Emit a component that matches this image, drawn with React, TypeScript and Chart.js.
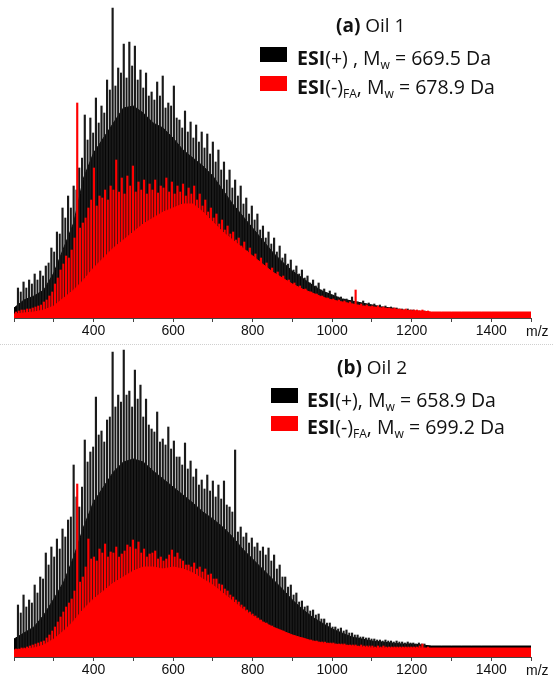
import React, { useEffect, useRef } from 'react';
import { Chart, registerables } from 'chart.js';

Chart.register(...registerables);

// ---------- axis / categories ----------
const X_MIN = 200;
const X_MAX = 1500;
const X_STEP = 100;
const TICK_LABELS = [400, 600, 800, 1000, 1200, 1400];
const AXIS_UNIT = 'm/z';

// homologous series (CH2 = 14 Da) peak grids
const POS_GRID_START = 210;
const POS_MINOR_START = 217;
const NEG_GRID_START = 205;
const NEG_MINOR_START = 212;
const GRID_STEP = 14;
// dense-signal envelope sampling
const BODY_START = 200;
const BODY_STEP = 25;

// ---------- Oil 1 ----------
const oil1PosPeaks = [
  30, 36, 38, 44, 47, 52, 70, 86, 110, 122,
  132, 150, 203, 200, 220, 212, 238, 310, 250, 274,
  276, 272, 248, 245, 226, 236, 242, 215, 232, 198,
  207, 196, 193, 186, 184, 176, 168, 156, 148, 138,
  132, 120, 112, 104, 92, 86, 80, 72, 64, 58,
  52, 48, 42, 38, 35, 29, 27, 25, 21, 19,
  21, 16, 17, 15, 14, 13, 12, 11, 10, 9,
  9, 8, 7, 7,
];
const oil1PosMinor = [
  26, 30, 34, 38, 42, 55, 66, 84, 100, 110,
  128, 160, 178, 185, 195, 205, 228, 232, 245, 240,
  252, 238, 230, 222, 218, 222, 210, 212, 200, 190,
  186, 180, 176, 170, 164, 156, 148, 138, 130, 122,
  114, 104, 98, 88, 80, 74, 66, 60, 54, 48,
  44, 40, 35, 32, 28, 25, 23, 21, 19, 17,
  16, 15, 14, 13, 12, 11, 10, 10, 9, 8,
  8, 7, 6,
];
const oil1PosBody = [
  10, 18, 22, 28, 45, 70, 95, 140, 165, 180,
  195, 210, 212, 205, 195, 190, 180, 168, 160, 152,
  142, 128, 114, 102, 90, 78, 66, 56, 47, 40,
  33, 27, 23, 19, 17, 15, 13, 11, 10, 8,
  7, 6, 4, 4, 4, 4, 4, 4, 4, 4,
  4, 4, 4,
];
const oil1NegPeaks = [
  6, 8, 9, 10, 12, 16, 22, 34, 48, 62,
  68, 215, 95, 110, 150, 122, 128, 132, 158, 140,
  142, 152, 136, 138, 134, 138, 132, 140, 136, 132,
  134, 130, 132, 124, 118, 110, 104, 98, 92, 86,
  80, 76, 70, 64, 60, 55, 50, 46, 42, 38,
  35, 32, 29, 26, 24, 22, 20, 19, 18, 17,
  16, 28, 14, 13, 12, 12, 11, 10, 10, 9,
  9, 8, 8, 8, 7,
];
const oil1NegMinor = [
  7, 8, 9, 11, 13, 18, 26, 40, 54, 60,
  80, 90, 100, 118, 112, 120, 118, 128, 126, 124,
  132, 126, 128, 124, 128, 125, 130, 126, 124, 126,
  122, 124, 118, 112, 106, 100, 94, 88, 84, 78,
  72, 67, 62, 57, 52, 48, 44, 40, 36, 33,
  30, 27, 25, 23, 21, 19, 18, 17, 16, 15,
  14, 13, 12, 11, 11, 10, 10, 9, 9, 8,
  8, 8, 7,
];
const oil1NegBody = [
  4, 5, 6, 8, 12, 20, 28, 38, 50, 60,
  70, 78, 86, 94, 100, 106, 110, 114, 114, 106,
  96, 86, 78, 70, 62, 54, 46, 40, 34, 29,
  25, 21, 18, 16, 14, 12, 11, 10, 9, 8,
  7, 7, 6, 6, 6, 6, 6, 6, 6, 6,
  6, 6, 6,
];

// ---------- Oil 2 ----------
const oil2PosPeaks = [
  52, 62, 57, 72, 80, 104, 110, 118, 128, 137,
  192, 150, 217, 205, 260, 226, 237, 305, 262, 307,
  266, 287, 272, 258, 228, 245, 218, 230, 216, 200,
  214, 196, 188, 177, 182, 176, 172, 176, 150, 207,
  130, 124, 119, 114, 110, 109, 102, 92, 80, 72,
  64, 56, 51, 47, 43, 38, 34, 30, 29, 27,
  24, 22, 20, 19, 18, 17, 17, 16, 16, 15,
  15, 14, 14, 13,
];
const oil2PosMinor = [
  44, 50, 54, 64, 78, 92, 100, 108, 120, 140,
  160, 170, 195, 210, 222, 215, 240, 250, 255, 262,
  250, 258, 240, 232, 225, 215, 212, 208, 200, 192,
  188, 180, 172, 168, 166, 160, 158, 152, 145, 125,
  120, 114, 110, 106, 102, 96, 88, 80, 70, 62,
  55, 50, 46, 42, 38, 34, 30, 28, 26, 24,
  22, 20, 19, 18, 17, 16, 16, 15, 15, 14,
  14, 13, 13,
];
const oil2PosBody = [
  18, 24, 30, 42, 58, 75, 100, 130, 155, 170,
  185, 195, 198, 195, 186, 178, 170, 162, 154, 145,
  138, 130, 120, 108, 98, 88, 78, 68, 57, 48,
  40, 34, 28, 24, 20, 18, 16, 15, 14, 13,
  13, 12, 11, 11, 11, 11, 11, 11, 11, 11,
  11, 11, 11,
];
const oil2NegPeaks = [
  8, 9, 10, 12, 14, 16, 22, 30, 40, 50,
  58, 173, 80, 118, 100, 108, 113, 105, 110, 103,
  112, 117, 115, 108, 103, 106, 100, 98, 107, 104,
  96, 92, 94, 90, 88, 83, 78, 72, 66, 60,
  55, 50, 45, 41, 37, 34, 31, 28, 26, 23,
  21, 19, 18, 17, 16, 15, 14, 14, 13, 13,
  12, 12, 12, 11, 11, 11, 11, 10, 10, 10,
  10, 10, 10, 13, 10,
];
const oil2NegMinor = [
  8, 9, 11, 13, 15, 19, 26, 35, 45, 54,
  66, 75, 90, 98, 96, 104, 100, 104, 100, 106,
  110, 108, 104, 100, 104, 98, 96, 102, 100, 98,
  92, 90, 88, 85, 82, 78, 73, 68, 62, 57,
  52, 47, 43, 39, 35, 32, 29, 27, 24, 22,
  20, 19, 17, 16, 15, 15, 14, 13, 13, 12,
  12, 11, 11, 11, 10, 10, 10, 10, 10, 10,
  10, 10, 11,
];
const oil2NegBody = [
  7, 8, 9, 12, 18, 26, 36, 48, 58, 66,
  74, 80, 86, 90, 90, 88, 90, 88, 84, 78,
  72, 64, 56, 48, 41, 35, 30, 26, 22, 19,
  16, 14, 13, 12, 11, 10, 9, 9, 9, 9,
  9, 9, 9, 9, 9, 9, 9, 9, 9, 9,
  9, 9, 9,
];

const BLACK = '#000000';
const NEEDLE_BLACK = '#1a1a1a';
const RED = '#ff0000';

function toPoints(values: number[], start: number, step: number) {
  return values.map((v, i) => ({ x: start + i * step, y: v }));
}

function needles(values: number[], start: number, color: string, width: number, order: number) {
  return { type: 'bar', data: toPoints(values, start, GRID_STEP), backgroundColor: color, barThickness: width, grouped: false, borderWidth: 0, order };
}

function body(values: number[], color: string, order: number) {
  return { type: 'line', data: toPoints(values, BODY_START, BODY_STEP), fill: 'origin', backgroundColor: color, borderColor: color, borderWidth: 1, pointRadius: 0, tension: 0, order };
}

function makeConfig(
  posPeaks: number[], posMinor: number[], posBody: number[],
  negPeaks: number[], negMinor: number[], negBody: number[],
  yMax: number, top: number, bottomSpace: number,
): any {
  return {
    type: 'bar',
    data: {
      datasets: [
        needles(negPeaks, NEG_GRID_START, RED, 1.5, 0),
        needles(negMinor, NEG_MINOR_START, RED, 1.3, 0),
        body(negBody, RED, 1),
        needles(posPeaks, POS_GRID_START, NEEDLE_BLACK, 1.5, 2),
        needles(posMinor, POS_MINOR_START, NEEDLE_BLACK, 1.3, 2),
        body(posBody, BLACK, 3),
      ],
    },
    options: {
      animation: false,
      responsive: false,
      maintainAspectRatio: false,
      events: [],
      layout: { padding: { left: 14, right: 22, top, bottom: 0 } },
      plugins: { legend: { display: false }, tooltip: { enabled: false } },
      scales: {
        x: {
          type: 'linear', min: X_MIN, max: X_MAX, offset: false,
          ticks: {
            stepSize: X_STEP, autoSkip: false, maxRotation: 0, padding: 1,
            color: '#111', font: { family: 'Liberation Sans', size: 14 },
            callback: (v: number) => (TICK_LABELS.includes(v) ? String(v) : ''),
          },
          grid: { drawOnChartArea: false, drawTicks: true, tickLength: 4, color: '#444', offset: false },
          border: { display: true, color: '#444', width: 1 },
          afterFit: (s: any) => { s.height = bottomSpace; },
        },
        y: { display: false, min: 0, max: yMax },
      },
    },
  };
}

const legendFont = "'Open Sans', 'Noto Sans', sans-serif";
const sub: React.CSSProperties = { fontSize: '0.62em', position: 'relative', top: '0.32em' };

type Row = { color: string; sign: string; fa: boolean; mw: string; comma: string };

function Legend(props: { tag: string; title: string; titleLeft: number; titleTop: number; boxLeft: number; textLeft: number; boxTops: number[]; rowTops: number[]; rows: Row[] }) {
  return (
    <>
      <div style={{ position: 'absolute', left: props.titleLeft, top: props.titleTop, fontFamily: legendFont, fontSize: 19, lineHeight: '22px', color: '#111', whiteSpace: 'nowrap' }}>
        <b>{props.tag}</b> {props.title}
      </div>
      {props.rows.map((r, i) => (
        <React.Fragment key={i}>
          <div style={{ position: 'absolute', left: props.boxLeft, top: props.boxTops[i], width: 27, height: 15, background: r.color }} />
          <div style={{ position: 'absolute', left: props.textLeft, top: props.rowTops[i], fontFamily: legendFont, fontSize: 19.5, lineHeight: '22px', color: '#111', whiteSpace: 'nowrap' }}>
            <b>ESI</b>({r.sign}){r.fa ? <span style={sub}>FA</span> : null}{r.comma}M<span style={sub}>w</span> = {r.mw} Da
          </div>
        </React.Fragment>
      ))}
    </>
  );
}

export default function App() {
  const refA = useRef<HTMLCanvasElement>(null);
  const refB = useRef<HTMLCanvasElement>(null);

  useEffect(() => {
    const a = new Chart(refA.current!, makeConfig(oil1PosPeaks, oil1PosMinor, oil1PosBody, oil1NegPeaks, oil1NegMinor, oil1NegBody, 312, 6, 26));
    const b = new Chart(refB.current!, makeConfig(oil2PosPeaks, oil2PosMinor, oil2PosBody, oil2NegPeaks, oil2NegMinor, oil2NegBody, 309, 4, 20));
    return () => { a.destroy(); b.destroy(); };
  }, []);

  const unitStyle: React.CSSProperties = { position: 'absolute', left: 526, fontFamily: 'Liberation Sans, Arial, sans-serif', fontSize: 14, lineHeight: '16px', color: '#111' };

  return (
    <div style={{ position: 'absolute', left: 0, top: 0, width: 553, height: 677, background: '#fff', overflow: 'hidden' }}>
      <canvas ref={refA} width={553} height={344} style={{ position: 'absolute', left: 0, top: 0, width: 553, height: 344 }} />
      <canvas ref={refB} width={553} height={333} style={{ position: 'absolute', left: 0, top: 344, width: 553, height: 333 }} />
      <div style={{ position: 'absolute', left: 0, top: 344, width: 553, height: 0, borderTop: '1px dotted #cfcfcf' }} />
      <div style={{ ...unitStyle, top: 323 }}>{AXIS_UNIT}</div>
      <div style={{ ...unitStyle, top: 662 }}>{AXIS_UNIT}</div>
      <Legend
        tag="(a)" title="Oil 1" titleLeft={336} titleTop={14} boxLeft={260} textLeft={297}
        boxTops={[47, 76]} rowTops={[47, 76]}
        rows={[
          { color: BLACK, sign: '+', fa: false, comma: ' , ', mw: '669.5' },
          { color: RED, sign: '-', fa: true, comma: ', ', mw: '678.9' },
        ]}
      />
      <Legend
        tag="(b)" title="Oil 2" titleLeft={337} titleTop={356} boxLeft={271} textLeft={307}
        boxTops={[388, 416]} rowTops={[389, 416]}
        rows={[
          { color: BLACK, sign: '+', fa: false, comma: ', ', mw: '658.9' },
          { color: RED, sign: '-', fa: true, comma: ', ', mw: '699.2' },
        ]}
      />
    </div>
  );
}
